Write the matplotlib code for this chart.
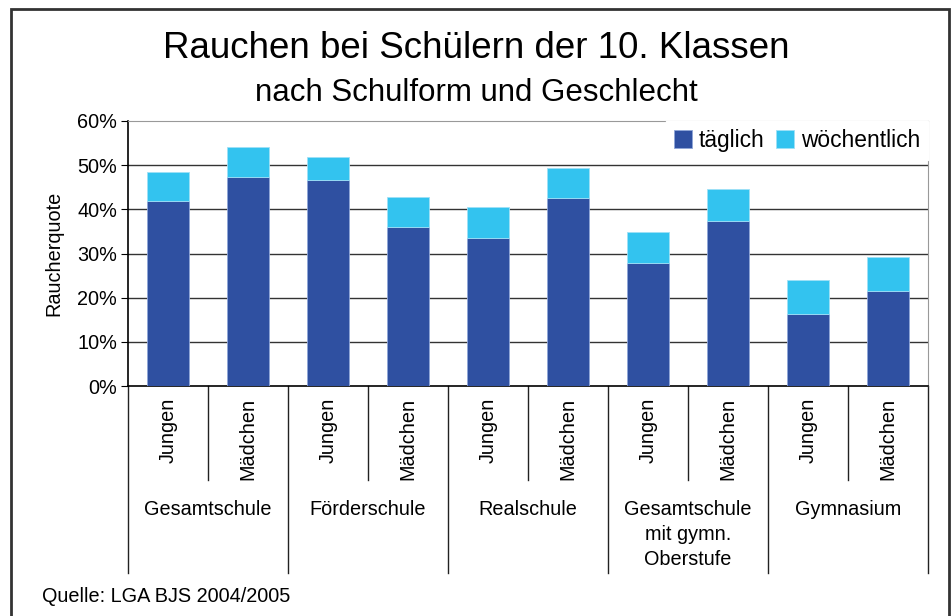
import matplotlib
matplotlib.use('Agg')
import matplotlib.pyplot as plt
import matplotlib.transforms as mtransforms
from matplotlib.patches import Rectangle
from matplotlib.ticker import PercentFormatter

plt.rcParams['font.family'] = ['Liberation Sans', 'DejaVu Sans']

schools = ['Gesamtschule', 'Förderschule', 'Realschule',
           'Gesamtschule\nmit gymn.\nOberstufe', 'Gymnasium']
genders = ['Jungen', 'Mädchen']
taeglich = [41.9, 47.4, 46.7, 36.0, 33.6, 42.6, 27.8, 37.4, 16.4, 21.5]
gesamt = [48.4, 54.2, 51.8, 42.8, 40.5, 49.4, 34.9, 44.5, 23.9, 29.1]
woechentlich = [g - t for g, t in zip(gesamt, taeglich)]

W, H = 953, 616
FS = 14.3
fig = plt.figure(figsize=(W / 100, H / 100), dpi=100)
ax = fig.add_axes([128 / W, 1 - 386 / H, 800 / W, 265 / H])

x = list(range(len(taeglich)))
ax.bar(x, taeglich, width=0.53, color='#2f50a1', edgecolor='#8fa6d8', lw=0.6,
       label='täglich', zorder=3)
ax.bar(x, woechentlich, bottom=taeglich, width=0.53, color='#33c3ef',
       edgecolor='#9fe0f7', lw=0.6, label='wöchentlich', zorder=3)

ax.set_xlim(-0.5, 9.5)
ax.set_ylim(0, 60)
ax.set_yticks(range(0, 61, 10))
ax.yaxis.set_major_formatter(PercentFormatter(decimals=0))
ax.tick_params(axis='y', direction='out', length=5, labelsize=FS, pad=3)
ax.set_xticks([])
for v in range(10, 60, 10):
    ax.axhline(v, color='#333333', lw=1, zorder=1)
ax.spines['top'].set_color('#999999')
ax.spines['right'].set_color('#999999')
ax.spines['left'].set_linewidth(1.2)
ax.spines['bottom'].set_linewidth(1.2)
ax.set_ylabel('Raucherquote', fontsize=FS, labelpad=10)

# category axis below the plot
tr = mtransforms.blended_transform_factory(ax.transData, ax.transAxes)
for i in range(11):
    xb = i - 0.5
    low = -0.706 if i % 2 == 0 else -0.355
    ax.plot([xb, xb], [0, low], color='#222222', lw=1, transform=tr, clip_on=False)
for i in x:
    ax.text(i, -0.045, genders[i % 2], rotation=90, ha='center', va='top',
            fontsize=FS, transform=tr)
for k, s in enumerate(schools):
    ax.text(2 * k + 0.5, -0.431, s, ha='center', va='top', fontsize=FS,
            linespacing=1.38, transform=tr)

leg = ax.legend(loc='upper right', ncol=2, fontsize=16.4, frameon=True,
                facecolor='white', edgecolor='white', fancybox=False,
                framealpha=1, borderaxespad=0.0, handlelength=0.8,
                handleheight=0.8, handletextpad=0.3, columnspacing=0.5,
                borderpad=0.35)
leg.set_zorder(5)

fig.text(0.5, 1 - 48 / H, 'Rauchen bei Schülern der 10. Klassen',
         ha='center', va='center', fontsize=26.5)
fig.text(0.5, 1 - 93 / H, 'nach Schulform und Geschlecht',
         ha='center', va='center', fontsize=22.5)
fig.text(42 / W, 1 - 597 / H, 'Quelle: LGA BJS 2004/2005',
         ha='left', va='center', fontsize=FS)

fig.patches.append(Rectangle((11 / W, -0.1), 938 / W, 1.1 - 9 / H,
                             transform=fig.transFigure, fill=False,
                             edgecolor='#333333', lw=2))

fig.savefig('out.png', dpi=100)
